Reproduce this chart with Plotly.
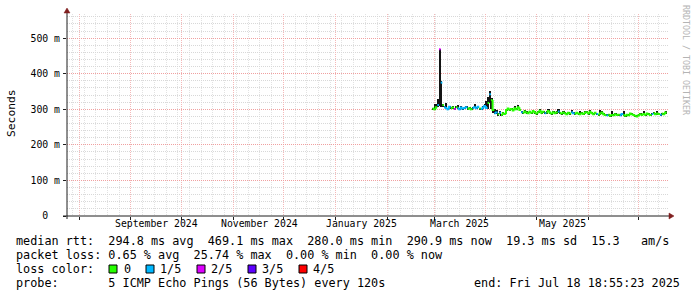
import pandas as pd
import plotly.graph_objects as go

# ---------------- data ----------------
first_day = "2025-02-28"

median_ms = [
    302,  # Feb 28
    300, 306, 312, 469, 375, 312, 306, 304, 300, 307, 303, 305, 301, 306, 303, 300,
    305, 302, 304, 306, 301, 303, 300, 304, 306, 303, 307, 302, 301, 305, 309,  # Mar
    304, 318, 342, 326, 298, 289, 291, 286, 290, 284, 289, 287, 298, 302, 299,
    301, 297, 303, 300, 306, 298, 292, 290, 294, 291, 289, 293, 290, 295, 291,  # Apr
    288, 292, 296, 290, 293, 289, 291, 295, 290, 288, 292, 289, 291, 294, 290, 288,
    291, 289, 286, 290, 288, 292, 289, 287, 290, 288, 286, 289, 287, 291, 292,  # May
    288, 293, 289, 286, 290, 287, 285, 288, 291, 286, 284, 283, 285, 282, 284,
    283, 286, 284, 285, 283, 287, 284, 282, 285, 283, 288, 286, 284, 282, 280,  # Jun
    283, 286, 284, 287, 285, 288, 286, 284, 287, 289, 286, 288, 287, 285, 288,
    286, 291,  # Jul
]

smoke_max_ms = [
    305,
    314, 316, 330, 470, 380, 315, 309, 318, 303, 310, 306, 308, 304, 309, 312, 303,
    308, 305, 307, 309, 304, 306, 303, 307, 316, 306, 310, 305, 304, 308, 315,
    322, 336, 352, 332, 302, 300, 297, 289, 296, 287, 292, 290, 301, 305, 302,
    304, 300, 310, 303, 312, 301, 295, 293, 297, 294, 292, 296, 293, 298, 294,
    291, 295, 300, 293, 296, 292, 294, 302, 293, 291, 295, 292, 294, 301, 293, 291,
    294, 292, 289, 293, 291, 299, 292, 290, 293, 291, 296, 292, 290, 294, 295,
    291, 298, 292, 289, 293, 290, 288, 297, 294, 289, 287, 286, 288, 285, 294,
    286, 289, 287, 288, 286, 290, 296, 285, 288, 286, 291, 289, 287, 285, 283,
    286, 289, 287, 296, 288, 291, 289, 287, 290, 292, 289, 295, 290, 288, 291,
    289, 294,
]

smoke_min_ms = [
    299,
    297, 303, 306, 310, 306, 306, 303, 301, 297, 304, 300, 302, 298, 303, 300, 297,
    302, 299, 301, 303, 298, 300, 297, 301, 303, 300, 304, 299, 298, 302, 306,
    301, 302, 318, 300, 290, 286, 288, 280, 287, 281, 286, 284, 295, 299, 296,
    298, 294, 300, 297, 303, 295, 289, 287, 291, 288, 286, 290, 287, 292, 288,
    285, 289, 293, 287, 290, 286, 288, 292, 287, 285, 289, 286, 288, 291, 287, 285,
    288, 286, 283, 287, 285, 289, 286, 284, 287, 285, 283, 286, 284, 288, 289,
    285, 290, 286, 283, 287, 284, 282, 285, 288, 283, 281, 280, 282, 279, 281,
    280, 283, 281, 282, 280, 284, 281, 279, 282, 280, 285, 283, 281, 279, 277,
    280, 283, 281, 284, 282, 285, 283, 281, 284, 286, 283, 285, 284, 282, 285,
    283, 288,
]

# lost pings out of 5 per day
loss_count = [
    0,
    0, 0, 1, 2, 1, 0, 1, 1, 1, 1, 0, 0, 2, 0, 1, 1,
    1, 1, 1, 1, 0, 0, 0, 1, 1, 1, 1, 0, 1, 1, 1,
    1, 0, 1, 0, 0, 1, 1, 0, 1, 0, 0, 0, 0, 0, 0,
    0, 0, 0, 0, 0, 0, 1, 0, 0, 0, 0, 0, 0, 0, 0,
    0, 0, 0, 0, 0, 1, 0, 0, 0, 0, 0, 0, 0, 1, 0, 0,
    0, 0, 0, 0, 0, 1, 1, 0, 0, 0, 0, 0, 0, 0, 0,
    0, 0, 0, 0, 0, 1, 0, 0, 0, 0, 0, 1, 0, 0, 0,
    0, 0, 0, 0, 1, 1, 0, 0, 0, 0, 0, 0, 0, 0, 0,
    0, 0, 0, 0, 0, 0, 0, 0, 1, 0, 0, 0, 0, 1, 0,
    0, 0,
]

loss_colors = ["#26ff00", "#00b8ff", "#dd00ff", "#5e00ff", "#ff0000"]
loss_labels = ["0", "1/5", "2/5", "3/5", "4/5"]

month_starts = ["2024-08-01", "2024-09-01", "2024-10-01", "2024-11-01", "2024-12-01",
                "2025-01-01", "2025-02-01", "2025-03-01", "2025-04-01", "2025-05-01",
                "2025-06-01", "2025-07-01"]
month_label_dates = ["2024-09-16 12:00", "2024-11-16 12:00", "2025-01-16 12:00",
                     "2025-03-16 12:00", "2025-05-16 12:00"]
month_labels = ["September 2024", "November 2024", "January 2025", "March 2025", "May 2025"]

y_tickvals = [0, 100, 200, 300, 400, 500]
y_ticktext = ["0  ", "100 m", "200 m", "300 m", "400 m", "500 m"]

x_range = ["2024-07-24 20:00", "2025-07-18 17:40"]
y_range = [0, 568]

stat_line1 = "median rtt:  294.8 ms avg  469.1 ms max  280.0 ms min  290.9 ms now  19.3 ms sd  15.3   am/s"
stat_line2 = "packet loss: 0.65 % avg  25.74 % max  0.00 % min  0.00 % now"
probe_line = "probe:       5 ICMP Echo Pings (56 Bytes) every 120s"
end_line = "end: Fri Jul 18 18:55:23 2025"

# ---------------- geometry helpers ----------------
L, R, T, B = 67, 29, 14, 81
FW, FH = 697, 297
W = FW - L - R
H = FH - T - B


def px(x):
    return (x - L) / W


def py(y):
    return (T + H - y) / H


NB = "\u00a0"
MONO = "DejaVu Sans Mono"


def txt(x, y, s, size=11.8, anchor="left", angle=0, color="#000000", yanchor="middle"):
    return dict(x=px(x), y=py(y), xref="paper", yref="paper", text=s.replace(" ", NB),
                showarrow=False, xanchor=anchor, yanchor=yanchor, textangle=angle,
                font=dict(family=MONO, size=size, color=color), borderpad=0, borderwidth=0)


# ---------------- traces ----------------
days = pd.date_range(first_day, periods=len(median_ms), freq="D")
centers = days + pd.Timedelta(hours=12)
one_day = pd.Timedelta(days=1)
day_ms = 86400000

fig = go.Figure()

# smoke (spread of the pings)
fig.add_trace(go.Bar(
    x=centers, base=smoke_min_ms,
    y=[hi - lo for hi, lo in zip(smoke_max_ms, smoke_min_ms)],
    width=day_ms, marker=dict(color="#141414", line=dict(width=0)),
    hoverinfo="skip", showlegend=False))

# median line, coloured by packet loss; a colour is only joined to its own neighbours
for c, col in enumerate(loss_colors):
    xs, ys = [], []
    for i, (d, m, lc) in enumerate(zip(days, median_ms, loss_count)):
        if lc != c:
            continue
        if i > 0 and loss_count[i - 1] == c:
            xs += [d, d, d + one_day, None]
            ys += [median_ms[i - 1], m, m, None]
        else:
            xs += [d, d + one_day, None]
            ys += [m, m, None]
    if xs:
        fig.add_trace(go.Scatter(x=xs, y=ys, mode="lines", line=dict(color=col, width=2),
                                 connectgaps=False, hoverinfo="skip", showlegend=False))

MINOR_GRID = "#d8d8d8"
MAJOR_GRID = "#f0a0a0"
MINOR_GRID_X = "#e2e2e2"
MAJOR_GRID_X = "#f4b8b8"
AXIS = "#1f1f1f"
ARROW = "#801f1f"
DASH = "1px,1px"

fig.update_layout(
    width=FW, height=FH, margin=dict(l=L, r=R, t=T, b=B, pad=0),
    paper_bgcolor="#ffffff", plot_bgcolor="#ffffff",
    barmode="overlay", bargap=0, showlegend=False,
    font=dict(family=MONO, size=9.8, color="#000000"),
    xaxis=dict(type="date", range=x_range, tickmode="array", tickvals=month_starts,
               showticklabels=False, ticks="outside", ticklen=3, tickcolor=AXIS, tickwidth=1,
               showgrid=True, gridcolor=MAJOR_GRID_X, griddash=DASH, gridwidth=1,
               zeroline=False, showline=False, fixedrange=True,
               minor=dict(tickmode="linear", tick0="2024-07-28", dtick=7 * day_ms,
                          showgrid=True, gridcolor=MINOR_GRID_X, griddash=DASH, gridwidth=1,
                          ticks="")),
    yaxis=dict(range=y_range, tickmode="array", tickvals=y_tickvals,
               ticktext=[t.replace(" ", NB) for t in y_ticktext],
               ticks="outside", ticklen=3, tickcolor=AXIS, tickwidth=1,
               tickfont=dict(family=MONO, size=9.8, color="#000000"), ticklabelstandoff=1,
               showgrid=True, gridcolor=MAJOR_GRID, griddash=DASH, gridwidth=1,
               zeroline=False, showline=False, fixedrange=True,
               minor=dict(tickmode="linear", tick0=0, dtick=20, showgrid=True,
                          gridcolor=MINOR_GRID, griddash=DASH, gridwidth=1, ticks="")),
)

annotations = []
for d, lab in zip(month_label_dates, month_labels):
    annotations.append(dict(x=d, y=0, xref="x", yref="paper", text=lab.replace(" ", NB),
                            showarrow=False, xanchor="center", yanchor="middle", yshift=-7,
                            font=dict(family=MONO, size=9.8, color="#000000"), borderpad=0))

annotations.append(txt(11, 113, "Seconds", size=11.3, anchor="center", angle=-90))
annotations.append(txt(686, 60, "RRDTOOL / TOBI OETIKER", size=8.3, anchor="center", angle=90,
                       color="#b4b4b4"))
annotations.append(txt(16, 241, stat_line1))
annotations.append(txt(16, 255, stat_line2))
annotations.append(txt(16, 269, "loss color:"))
annotations.append(txt(16, 283, probe_line))
annotations.append(txt(680, 283, end_line, anchor="right"))

box_left = [109, 146, 197, 248, 299]
label_left = [124, 160, 211, 262, 313]
shapes = []
for bl, ll, col, lab in zip(box_left, label_left, loss_colors, loss_labels):
    shapes.append(dict(type="rect", xref="paper", yref="paper", x0=px(bl), x1=px(bl + 8),
                       y0=py(273), y1=py(265), fillcolor=col, line=dict(color="#000000", width=1)))
    annotations.append(txt(ll, 269, lab))

# axes lines and arrows
shapes.append(dict(type="line", xref="paper", yref="paper", x0=px(63), x1=px(670), y0=py(216), y1=py(216),
                   line=dict(color=AXIS, width=1)))
shapes.append(dict(type="line", xref="paper", yref="paper", x0=px(67), x1=px(67), y0=py(219), y1=py(12),
                   line=dict(color=AXIS, width=1)))
shapes.append(dict(type="path", xref="paper", yref="paper",
                   path=f"M {px(669)} {py(213)} L {px(674)} {py(216)} L {px(669)} {py(219)} Z",
                   fillcolor=ARROW, line=dict(color=ARROW, width=0.5)))
shapes.append(dict(type="path", xref="paper", yref="paper",
                   path=f"M {px(64)} {py(13)} L {px(67)} {py(8)} L {px(70)} {py(13)} Z",
                   fillcolor=ARROW, line=dict(color=ARROW, width=0.5)))

fig.update_layout(annotations=annotations, shapes=shapes)

fig.write_html("out.html")
